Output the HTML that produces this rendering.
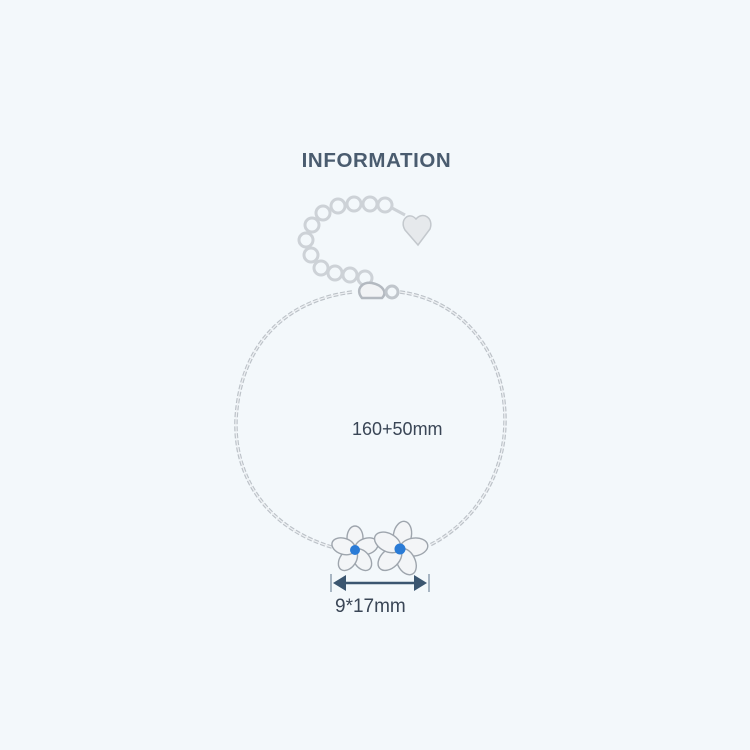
<!DOCTYPE html>
<html><head><meta charset="utf-8"><style>
html,body{margin:0;padding:0;}
body{width:750px;height:750px;background:#f3f8fb;position:relative;overflow:hidden;font-family:"Liberation Sans",sans-serif;}
.t{position:absolute;color:#3a4656;}
</style></head><body>
<div class="t" style="left:0;width:753px;top:149px;text-align:center;font-size:20.5px;font-weight:bold;letter-spacing:0.6px;color:#4a5c6f;">INFORMATION</div>
<svg width="750" height="750" style="position:absolute;left:0;top:0">
<!-- main chain -->
<g fill="none">
<path d="M352,292 C290,300 240,340 236,420 C234,480 270,530 335,548" stroke="#bcc2c8" stroke-width="3.5" stroke-dasharray="5 2"/>
<path d="M400,292 C460,300 505,350 505,420 C505,480 470,525 430,545" stroke="#bcc2c8" stroke-width="3.5" stroke-dasharray="5 2"/>
<path d="M352,292 C290,300 240,340 236,420 C234,480 270,530 335,548" stroke="#eef1f4" stroke-width="1.2"/>
<path d="M400,292 C460,300 505,350 505,420 C505,480 470,525 430,545" stroke="#eef1f4" stroke-width="1.2"/>
</g>
<!-- extension chain links -->
<g fill="none" stroke="#cdd2d7" stroke-width="3">
<circle cx="365" cy="278" r="7"/><circle cx="350" cy="275" r="7"/><circle cx="335" cy="273" r="7"/><circle cx="321" cy="268" r="7"/>
<circle cx="311" cy="255" r="7"/><circle cx="306" cy="240" r="7"/><circle cx="312" cy="225" r="7"/><circle cx="323" cy="213" r="7"/>
<circle cx="338" cy="206" r="7"/><circle cx="354" cy="204" r="7"/><circle cx="370" cy="204" r="7"/><circle cx="385" cy="205" r="7"/>
<line x1="392" y1="208" x2="405" y2="215"/>
</g>
<!-- clasp -->
<path d="M362,298 C355,290 362,281 372,283 C382,285 388,292 382,298 Z" fill="#f1f3f5" stroke="#b3b9c0" stroke-width="2.5"/>
<circle cx="392" cy="292" r="6" fill="none" stroke="#c0c6cc" stroke-width="3"/>
<!-- heart -->
<path d="M418,245 L405,230 C399,220 409,211 416,219 C423,211 434,218 430,229 Z" fill="#e6e9ec" stroke="#c3c8cd" stroke-width="1.5"/>
<!-- flowers -->
<g fill="#f3f5f7" stroke="#9ea5ad" stroke-width="1.4">
<g transform="translate(355,550)">
<ellipse cx="0" cy="-12" rx="8" ry="12" transform="rotate(0)"/>
<ellipse cx="0" cy="-12" rx="8" ry="12" transform="rotate(72)"/>
<ellipse cx="0" cy="-12" rx="8" ry="12" transform="rotate(144)"/>
<ellipse cx="0" cy="-12" rx="8" ry="12" transform="rotate(216)"/>
<ellipse cx="0" cy="-12" rx="8" ry="12" transform="rotate(288)"/>
</g>
<g transform="translate(400,549)">
<ellipse cx="0" cy="-14" rx="9" ry="14" transform="rotate(10)"/>
<ellipse cx="0" cy="-14" rx="9" ry="14" transform="rotate(82)"/>
<ellipse cx="0" cy="-14" rx="9" ry="14" transform="rotate(154)"/>
<ellipse cx="0" cy="-14" rx="9" ry="14" transform="rotate(226)"/>
<ellipse cx="0" cy="-14" rx="9" ry="14" transform="rotate(298)"/>
</g>
</g>
<circle cx="355" cy="550" r="5" fill="#2a7bd6"/>
<circle cx="400" cy="549" r="5.5" fill="#2a7bd6"/>
<!-- measure -->
<line x1="331" y1="574" x2="331" y2="592" stroke="#8fa0b0" stroke-width="1.5"/>
<line x1="429" y1="574" x2="429" y2="592" stroke="#8fa0b0" stroke-width="1.5"/>
<line x1="340" y1="583" x2="420" y2="583" stroke="#3b5670" stroke-width="2.5"/>
<path d="M333,583 L346,575 L346,591Z M427,583 L414,575 L414,591Z" fill="#3b5670"/>
</svg>
<div class="t" style="left:352px;top:419px;font-size:18px;">160+50mm</div>
<div class="t" style="left:335px;top:596px;font-size:19px;">9*17mm</div>
</body></html>
